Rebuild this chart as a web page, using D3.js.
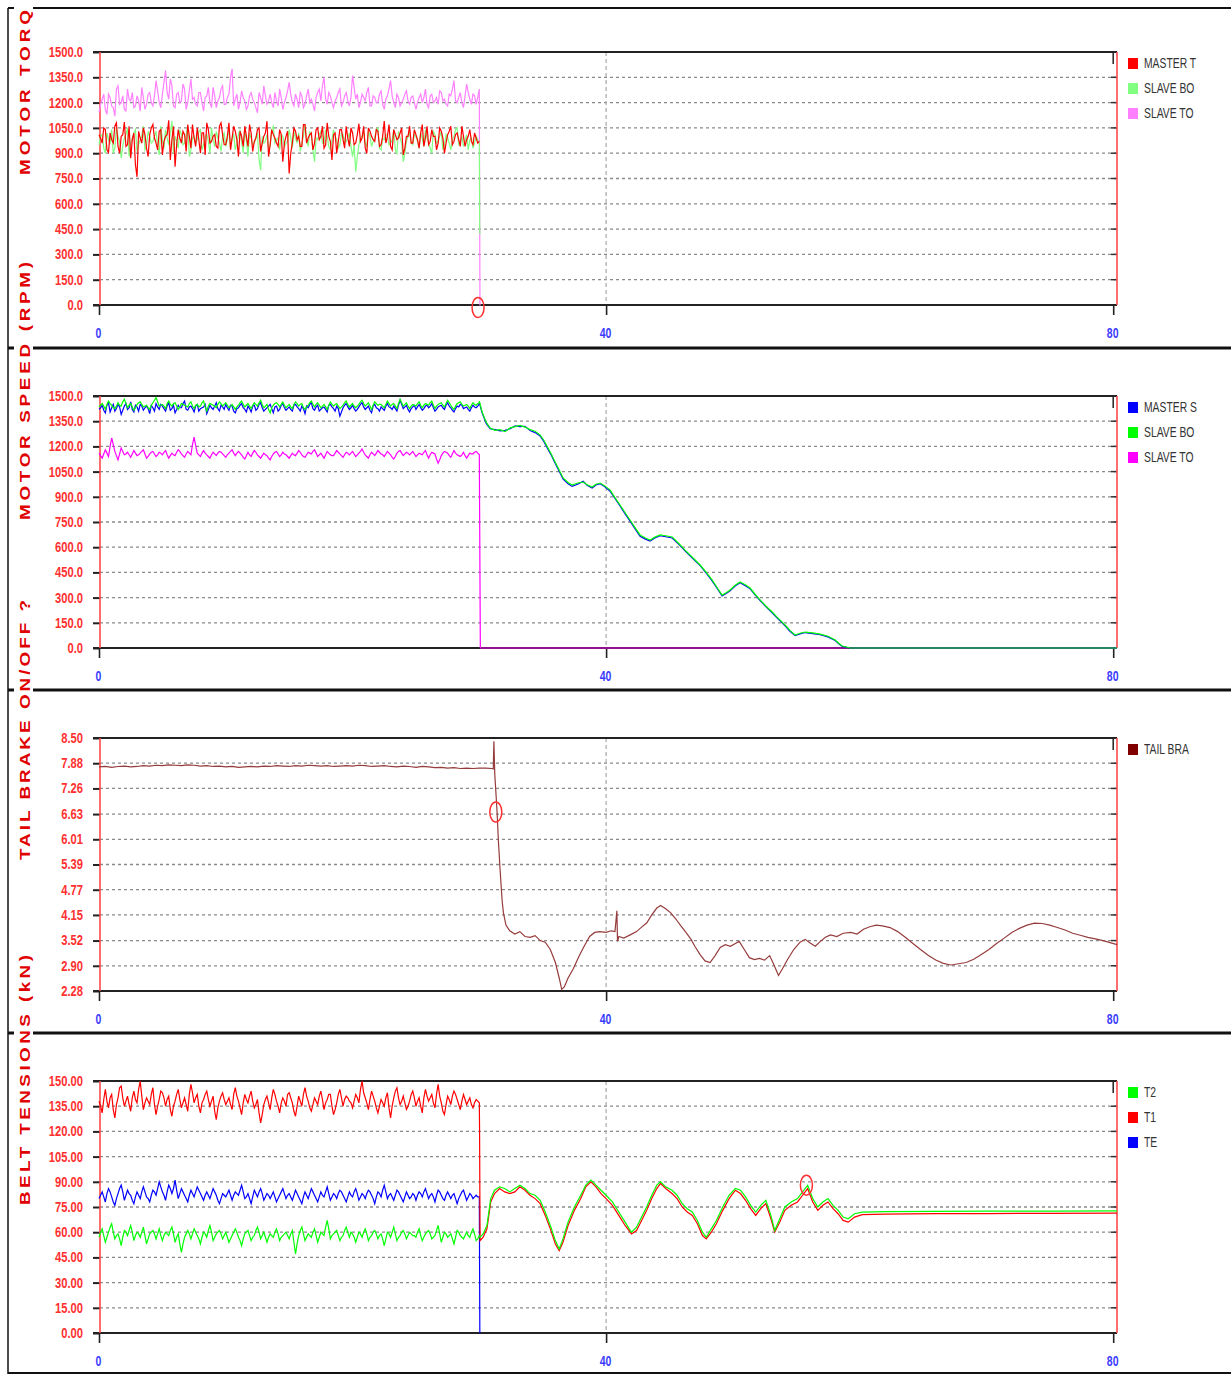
<!DOCTYPE html>
<html><head><meta charset="utf-8">
<script src="https://cdn.jsdelivr.net/npm/d3@7"></script>
<style>
body{margin:0;background:#fff;}
svg{display:block;}
</style></head><body>
<svg id="chart" width="1231" height="1376"></svg>
<script>
// ---------------- DATA ----------------
// recorded part (t = 0..30): "A" samples at t = i*0.25, "B" samples at t = 0.125 + i*0.25
const sampleStep = 0.25;
const timeTicks = [0, 40, 80];
const rpmTicks = [0,150,300,450,600,750,900,1050,1200,1350,1500];
const brakeTicks = [2.28,2.90,3.52,4.15,4.77,5.39,6.01,6.63,7.26,7.88,8.50];
const tensionTicks = [0,15,30,45,60,75,90,105,120,135,150];

const torqueNames = ['MASTER T','SLAVE BO','SLAVE TO'];
const speedNames = ['MASTER S','SLAVE BO','SLAVE TO'];
const brakeNames = ['TAIL BRA'];
const tensionNames = ['T2','T1','TE'];

const titles = ['MOTOR TORQ','MOTOR SPEED (RPM)','TAIL BRAKE ON/OFF ?','BELT TENSIONS (kN)'];

// Panel 1: motor torque
const torqueMaster = [1010,960,1040,905,980,1060,940,1000,1085,950,870,1020,760,990,1050,930,1010,1070,960,1030,
 890,1000,1095,980,820,1040,960,1010,1070,930,990,1050,900,1020,1080,960,1000,940,1060,1010,
 950,1080,990,1030,880,1000,1060,940,1020,970,1040,910,1000,1090,950,1010,960,1040,850,1000,
 780,960,1030,1000,940,1070,990,1020,960,1050,1000,930,1080,970,1010,900,1040,980,1060,940,
 1020,960,1075,990,930,1050,1000,970,1030,950,1090,1000,940,1040,980,1020,890,1000,1060,960,
 1010,930,1070,990,950,1040,1000,960,1030,900,1010,1060,970,1020,940,1000,980,1040,950,990,970];
const torqueMasterB = [990,1050,920,1020,960,1080,900,1010,940,1060,980,830,1030,960,1010,880,1050,990,920,1040,
 970,1010,860,1060,950,990,1030,910,1000,1070,940,980,1020,890,1040,970,1010,930,1080,950,
 1000,920,1060,980,1030,940,1000,1070,910,990,1050,960,1020,880,1040,990,940,1010,960,1030,
 900,1050,980,940,1070,960,1010,920,1040,980,1060,950,1000,860,1020,970,1040,930,990,1050,
 950,1010,970,1060,900,1030,980,1040,940,1000,960,1070,920,1010,990,1050,930,1000,960,1040,
 980,1020,940,1060,970,1000,920,1050,990,960,1030,950,1010,980,1060,940,1000,970,1020,960];
const torqueSlaveBot = [950,1010,900,980,1040,930,1000,870,990,1050,960,1020,910,980,1060,940,1000,970,1030,890,
 980,1040,950,1090,1000,930,1010,960,1060,920,1000,980,1040,950,1010,900,980,1030,960,1000,
 940,1050,990,920,1010,970,1030,880,990,960,1020,800,960,1010,940,1060,980,920,1000,960,
 1040,930,990,1020,960,1070,940,1000,850,980,1030,960,1000,920,1040,980,950,1010,970,1020,
 880,790,950,1000,960,1030,940,990,1050,920,980,1010,960,1040,900,990,850,970,1020,950,
 1000,930,990,1040,960,900,1010,970,1030,950,990,920,1000,1050,960,940,1010,980,930,1000,960];
const torqueSlaveBotB = [1000,930,1020,960,900,1050,970,940,1010,880,990,1040,950,1000,920,1030,960,1000,940,1060,
 930,990,1020,900,970,1040,950,1010,880,990,960,1030,920,1000,970,1050,940,990,910,1020,
 980,930,1010,960,1040,900,980,1020,950,990,860,1000,970,930,1040,960,990,1010,940,970,
 990,1030,960,910,1000,980,1030,920,990,1010,960,1040,940,980,1000,930,1020,960,990,940,
 950,880,990,1020,940,1000,970,1040,930,990,1010,950,980,920,1030,960,900,1000,960,1010,
 970,1020,940,990,930,1030,960,1000,920,1010,960,980,1040,950,1000,970,920,990,960,980];
const torqueSlaveTop = [1140,1220,1160,1250,1180,1120,1300,1200,1160,1280,1210,1170,1240,1150,1230,1190,1260,1180,1330,1200,
 1250,1390,1220,1300,1170,1260,1210,1280,1200,1340,1230,1180,1260,1150,1240,1200,1290,1170,1230,1300,
 1190,1250,1400,1220,1160,1270,1210,1180,1260,1200,1140,1230,1300,1190,1250,1170,1210,1280,1160,1230,
 1320,1200,1250,1170,1240,1190,1280,1220,1150,1260,1210,1350,1190,1240,1170,1230,1280,1200,1260,1180,
 1360,1220,1170,1250,1210,1290,1180,1230,1200,1270,1160,1240,1330,1200,1250,1180,1220,1270,1190,1240,
 1160,1230,1200,1280,1170,1250,1210,1190,1260,1220,1180,1240,1330,1200,1260,1170,1310,1220,1250,1190,1280];
const torqueSlaveTopB = [1190,1250,1130,1230,1170,1280,1190,1240,1150,1220,1260,1180,1210,1290,1160,1250,1200,1240,1270,1170,
 1320,1260,1340,1180,1250,1200,1310,1160,1270,1220,1190,1260,1200,1230,1290,1170,1240,1210,1280,1190,
 1230,1350,1180,1250,1200,1230,1160,1240,1220,1170,1260,1190,1240,1210,1200,1260,1180,1230,1200,1270,
 1250,1180,1220,1260,1170,1240,1200,1190,1230,1280,1300,1220,1260,1200,1210,1260,1180,1240,1210,1230,
 1290,1250,1200,1230,1260,1180,1240,1200,1250,1190,1220,1280,1240,1170,1230,1200,1250,1210,1230,1200,
 1200,1250,1230,1190,1240,1200,1230,1270,1210,1190,1250,1280,1210,1230,1200,1240,1260,1190,1240,1230];
const torqueSlaveBotTail = [[30.03,450],[30.05,420]];
const torqueSlaveTopTail = [[30.05,0],[30.1,0]];

// Panel 2: motor speed
const speedMaster = [1420,1445,1400,1460,1430,1410,1450,1390,1440,1420,1465,1405,1435,1450,1415,1440,1395,1430,1455,1420,
 1440,1410,1460,1425,1400,1445,1430,1470,1415,1440,1405,1450,1425,1435,1395,1445,1420,1460,1410,1435,
 1450,1415,1440,1400,1430,1455,1420,1440,1405,1445,1425,1460,1410,1430,1450,1400,1440,1420,1455,1415,
 1435,1410,1450,1425,1440,1395,1430,1460,1415,1445,1420,1435,1405,1450,1425,1440,1380,1430,1455,1420,
 1445,1410,1435,1460,1420,1440,1400,1450,1425,1435,1415,1455,1430,1440,1410,1475,1425,1445,1405,1435,
 1420,1450,1415,1440,1430,1455,1410,1435,1445,1420,1460,1430,1405,1440,1450,1425,1435,1410,1445,1430,1455];
const speedMasterB = [1430,1415,1445,1405,1450,1425,1435,1415,1455,1430,1420,1445,1410,1440,1430,1425,1445,1410,1435,1450,
 1425,1440,1415,1445,1420,1430,1455,1420,1435,1425,1440,1410,1430,1450,1420,1430,1440,1425,1445,1420,
 1430,1445,1410,1425,1445,1430,1405,1425,1440,1415,1450,1430,1420,1440,1425,1435,1410,1445,1430,1425,
 1420,1445,1435,1410,1425,1440,1450,1425,1435,1410,1430,1420,1445,1435,1410,1425,1405,1445,1435,1430,
 1425,1420,1450,1435,1430,1415,1440,1430,1410,1425,1440,1435,1420,1425,1445,1450,1435,1420,1425,1445,
 1435,1430,1425,1445,1440,1430,1420,1440,1430,1445,1440,1415,1425,1435,1445,1430,1420,1430,1435,1440];
const speedSlaveBot = [1435,1455,1420,1470,1445,1425,1460,1440,1480,1430,1455,1415,1450,1465,1435,1445,1420,1460,1490,1440,
 1450,1425,1470,1440,1460,1420,1455,1445,1435,1465,1425,1450,1440,1470,1410,1455,1445,1430,1465,1440,
 1460,1430,1450,1420,1445,1470,1435,1455,1425,1460,1440,1475,1430,1450,1400,1445,1460,1435,1465,1430,
 1450,1425,1465,1440,1455,1420,1445,1470,1435,1460,1430,1450,1420,1465,1440,1455,1425,1445,1470,1435,
 1455,1430,1450,1475,1440,1460,1420,1465,1445,1450,1430,1470,1440,1455,1425,1480,1440,1460,1425,1450,
 1440,1465,1430,1455,1445,1470,1425,1450,1460,1435,1475,1445,1420,1455,1465,1440,1450,1425,1460,1445,1460];
const speedSlaveBotB = [1445,1440,1450,1455,1430,1440,1445,1465,1455,1445,1435,1430,1460,1450,1440,1430,1445,1475,1465,1445,
 1440,1455,1450,1455,1440,1435,1450,1440,1455,1440,1445,1435,1460,1435,1440,1450,1440,1450,1455,1450,
 1445,1440,1435,1435,1460,1450,1445,1440,1445,1450,1460,1450,1440,1420,1430,1455,1450,1450,1445,1440,
 1435,1450,1455,1450,1430,1435,1460,1450,1450,1445,1440,1435,1445,1450,1450,1440,1435,1460,1450,1445,
 1440,1440,1465,1455,1450,1440,1445,1455,1450,1440,1450,1455,1450,1440,1455,1460,1450,1440,1440,1445,
 1455,1445,1445,1450,1460,1445,1440,1455,1445,1455,1460,1430,1440,1460,1450,1445,1440,1445,1450,1455];
const speedSlaveTop = [1160,1130,1180,1140,1250,1170,1120,1190,1150,1165,1135,1175,1145,1160,1180,1130,1155,1170,1140,1165,
 1150,1175,1130,1160,1145,1180,1155,1135,1170,1150,1255,1160,1140,1175,1150,1130,1165,1145,1170,1155,
 1135,1160,1180,1145,1170,1150,1125,1165,1140,1175,1150,1130,1160,1145,1120,1155,1170,1140,1165,1150,
 1130,1160,1145,1175,1150,1135,1165,1155,1180,1140,1160,1130,1170,1150,1145,1175,1155,1135,1165,1150,
 1170,1140,1160,1185,1150,1130,1165,1145,1175,1155,1140,1170,1150,1125,1160,1175,1145,1165,1150,1170,
 1140,1160,1150,1175,1130,1165,1155,1100,1145,1170,1160,1135,1175,1150,1140,1165,1130,1160,1155,1170,1150];
const speedSlaveTopB = [1145,1155,1160,1200,1210,1145,1155,1170,1155,1150,1155,1160,1150,1170,1155,1140,1165,1155,1150,1160,
 1165,1150,1145,1150,1165,1170,1145,1155,1160,1210,1205,1150,1160,1160,1140,1150,1155,1160,1165,1145,
 1150,1170,1160,1160,1160,1135,1145,1150,1160,1165,1140,1145,1150,1130,1140,1165,1155,1150,1155,1140,
 1145,1150,1160,1165,1140,1150,1160,1170,1160,1150,1145,1150,1160,1145,1160,1165,1145,1150,1160,1160,
 1155,1150,1170,1165,1140,1150,1155,1160,1165,1150,1155,1160,1135,1140,1170,1160,1155,1160,1160,1155,
 1150,1155,1165,1150,1150,1160,1125,1120,1160,1165,1145,1155,1160,1145,1150,1145,1145,1155,1165,1160];
const speedMasterTail = [[30.0,1460],[30.22,1400],[30.53,1338],[30.85,1305],[31.24,1300],[31.64,1292],[32.03,1295],[32.43,1305],[32.82,1322],[33.21,1318],[33.6,1320],[34.0,1295],[34.4,1282],[34.79,1262],[35.1,1228],[35.42,1182],[35.7,1145],[35.98,1100],[36.3,1052],[36.61,1005],[37.0,978],[37.32,962],[37.75,975],[38.19,992],[38.5,968],[38.9,952],[39.2,970],[39.53,978],[39.9,960],[40.32,932],[40.7,890],[41.1,845],[41.5,798],[41.89,755],[42.3,708],[42.68,665],[43.1,648],[43.47,636],[43.85,655],[44.26,668],[44.7,662],[45.21,655],[45.7,620],[46.23,578],[46.8,535],[47.42,490],[47.9,445],[48.36,400],[48.75,356],[49.15,310],[49.5,326],[49.78,340],[50.2,370],[50.57,388],[50.95,372],[51.36,352],[51.75,316],[52.15,282],[52.6,246],[53.1,210],[53.6,170],[54.12,132],[54.5,100],[54.91,74],[55.3,84],[55.7,92],[56.3,86],[56.88,80],[57.5,66],[58.07,45],[58.4,22],[58.62,10],[59.25,0],[80.3,0]];
const speedSlaveBotTail = [[30.0,1470],[30.22,1405],[30.53,1345],[30.85,1310],[31.24,1296],[31.64,1300],[32.03,1288],[32.43,1310],[32.82,1318],[33.21,1325],[33.6,1315],[34.0,1300],[34.4,1290],[34.79,1268],[35.1,1235],[35.42,1190],[35.7,1150],[35.98,1107],[36.3,1060],[36.61,1012],[37.0,985],[37.32,970],[37.75,982],[38.19,988],[38.5,972],[38.9,958],[39.2,975],[39.53,982],[39.9,965],[40.32,940],[40.7,895],[41.1,851],[41.5,805],[41.89,762],[42.3,715],[42.68,673],[43.1,655],[43.47,643],[43.85,660],[44.26,673],[44.7,668],[45.21,661],[45.7,625],[46.23,583],[46.8,540],[47.42,494],[47.9,450],[48.36,405],[48.75,360],[49.15,315],[49.5,330],[49.78,345],[50.2,375],[50.57,393],[50.95,378],[51.36,357],[51.75,320],[52.15,286],[52.6,250],[53.1,214],[53.6,175],[54.12,137],[54.5,105],[54.91,77],[55.3,88],[55.7,95],[56.3,90],[56.88,83],[57.5,70],[58.07,48],[58.4,25],[58.62,12],[59.25,0],[80.3,0]];
const speedSlaveTopTail = [[30.08,0],[80.3,0]];

// Panel 3: tail brake (0.5 s samples up to t = 30, then recorded points)
const brakeStep = 0.5;
const brakeBefore = [7.79,7.80,7.78,7.80,7.81,7.79,7.80,7.82,7.81,7.83,7.82,7.84,7.83,7.82,7.84,7.83,7.81,7.82,7.80,7.81,
 7.79,7.80,7.78,7.79,7.80,7.79,7.81,7.80,7.82,7.81,7.80,7.82,7.81,7.83,7.82,7.81,7.82,7.80,7.81,7.82,
 7.81,7.83,7.82,7.80,7.81,7.82,7.80,7.79,7.81,7.80,7.78,7.80,7.79,7.77,7.78,7.76,7.77,7.75,7.76,7.75,7.76];
const brakeAfter = [[30.5,7.76],[31.0,7.75],[31.1,7.74],[31.15,8.42],[31.22,7.6],[31.32,7.1],[31.4,6.68],[31.5,6.0],[31.64,5.25],[31.8,4.5],[31.9,4.2],[32.1,3.9],[32.4,3.76],[32.8,3.68],[33.2,3.74],[33.6,3.62],[34.0,3.6],[34.4,3.64],[34.8,3.52],[35.2,3.48],[35.6,3.3],[36.0,2.98],[36.3,2.6],[36.5,2.32],[36.7,2.38],[37.0,2.6],[37.4,2.82],[37.9,3.16],[38.3,3.4],[38.7,3.62],[39.1,3.72],[39.5,3.74],[40.0,3.72],[40.4,3.76],[40.7,3.74],[40.85,4.25],[40.9,3.5],[41.0,3.62],[41.4,3.58],[41.9,3.66],[42.4,3.74],[42.8,3.85],[43.2,3.95],[43.6,4.15],[44.0,4.32],[44.3,4.38],[44.7,4.3],[45.1,4.2],[45.5,4.05],[45.9,3.88],[46.3,3.72],[46.7,3.55],[47.0,3.38],[47.4,3.18],[47.8,3.02],[48.2,2.98],[48.6,3.15],[49.0,3.35],[49.4,3.42],[49.8,3.38],[50.2,3.45],[50.5,3.5],[50.9,3.3],[51.3,3.1],[51.7,3.05],[52.1,3.08],[52.5,3.04],[52.9,3.15],[53.2,2.95],[53.6,2.66],[53.9,2.82],[54.3,3.05],[54.8,3.3],[55.3,3.48],[55.7,3.55],[56.1,3.46],[56.5,3.38],[56.9,3.5],[57.3,3.6],[57.7,3.66],[58.2,3.62],[58.7,3.7],[59.3,3.72],[59.8,3.68],[60.3,3.8],[60.8,3.86],[61.3,3.9],[61.8,3.88],[62.4,3.84],[63.0,3.74],[63.6,3.6],[64.2,3.45],[64.8,3.3],[65.4,3.16],[66.0,3.04],[66.6,2.96],[67.2,2.92],[67.8,2.95],[68.4,2.98],[69.0,3.06],[69.6,3.18],[70.2,3.3],[70.8,3.45],[71.4,3.58],[72.0,3.72],[72.6,3.82],[73.2,3.9],[73.8,3.95],[74.4,3.94],[75.0,3.9],[75.6,3.84],[76.2,3.78],[76.8,3.7],[77.4,3.65],[78.0,3.6],[78.6,3.56],[79.2,3.52],[80.3,3.42]];

// Panel 4: belt tensions
const tensionT1 = [138,131,145,134,142,128,140,147,135,141,132,144,137,150,133,140,136,146,130,139,
 143,135,141,129,138,145,134,140,132,148,137,142,131,139,144,135,141,127,138,143,
 136,140,133,146,138,130,142,137,144,134,139,125,136,141,133,145,138,131,140,135,
 143,137,129,141,135,146,138,132,140,136,144,133,139,142,130,137,145,135,141,138,
 134,142,137,150,140,133,144,138,131,139,135,143,128,140,146,136,141,133,138,144,
 135,140,131,145,138,142,134,148,137,130,141,136,144,139,133,142,136,140,134,139,137];
const tensionT1B = [135,139,138,140,133,136,146,140,138,136,140,139,145,141,137,138,142,136,135,144,
 140,139,133,135,142,139,137,136,142,143,140,135,137,142,139,138,132,134,141,139,
 138,136,142,141,134,137,139,141,138,136,131,130,139,137,140,142,135,137,138,142,
 140,132,135,138,142,141,134,136,138,141,139,137,142,135,133,142,140,139,140,137,
 138,140,145,143,137,139,141,134,135,137,140,134,135,144,140,138,137,135,142,140,
 138,135,140,141,140,137,142,141,132,136,139,141,142,136,138,139,138,136,137,138];
const tensionTE = [80,84,78,86,81,76,83,88,79,85,82,77,84,80,87,81,78,85,82,90,
 84,79,88,83,91,80,86,82,78,85,81,87,83,79,84,80,86,82,77,83,
 81,85,79,84,82,88,80,83,77,85,81,86,79,83,80,84,78,82,86,80,
 83,79,85,81,77,84,80,86,82,78,84,81,87,79,83,80,85,82,78,84,
 81,86,79,83,80,85,82,77,84,81,88,80,83,79,85,82,78,84,80,83,
 79,84,81,86,80,83,78,85,82,79,84,80,83,77,82,85,79,83,80,82,81];
const tensionTEB = [82,81,83,84,78,80,86,84,82,83,79,81,82,84,84,80,82,84,86,87,
 82,84,86,86,85,83,84,80,82,83,84,85,81,82,82,83,84,79,80,82,
 83,82,82,83,85,84,81,80,81,83,84,83,81,82,82,81,80,84,83,82,
 81,82,83,79,81,82,83,84,80,81,82,84,83,81,82,83,84,80,81,82,
 84,83,81,82,83,84,80,81,83,85,84,82,81,82,84,80,81,82,81,82,
 82,83,84,83,82,81,82,84,80,82,82,82,80,80,84,82,81,82,81,81];
const tensionT2 = [57,62,54,60,65,56,59,52,61,58,64,55,60,57,63,53,59,61,56,62,
 55,60,58,63,54,59,48,57,61,56,62,58,53,60,57,64,55,59,61,56,
 60,54,58,62,57,52,59,61,55,58,63,56,60,54,59,57,62,55,58,60,
 56,61,47,58,63,55,59,57,62,54,60,58,67,56,59,61,55,58,63,57,
 59,54,60,57,62,55,58,61,56,59,52,60,57,63,55,58,61,56,60,58,
 57,62,55,59,61,56,58,64,54,60,57,59,53,61,58,56,60,57,62,55,58];
const tensionT2B = [60,58,57,63,60,58,56,57,60,61,60,58,59,60,58,56,60,59,59,58,
 58,59,61,59,57,53,53,59,59,59,60,56,57,59,61,60,57,60,59,58,
 57,56,60,60,55,56,60,58,57,61,60,58,57,57,58,60,59,57,59,58,
 59,54,53,61,59,57,58,60,58,57,59,63,62,58,60,58,57,61,60,60,
 57,57,59,60,59,57,60,59,58,56,56,59,60,59,57,60,59,58,59,58,
 60,58,57,60,59,57,61,59,57,59,58,56,57,60,57,58,58,60,59,56];
const tensionT2Tail = [[30.06,57],[30.3,59],[30.6,64],[30.9,80],[31.2,85],[31.6,87],[32.0,86],[32.4,84],[32.8,86],[33.2,88],[33.6,86],[34.0,83],[34.4,82],[34.8,79],[35.2,72],[35.6,64],[36.0,55],[36.3,50],[36.6,56],[37.0,66],[37.5,75],[38.0,82],[38.4,88],[38.8,91],[39.2,88],[39.6,85],[40.0,82],[40.5,78],[41.0,72],[41.5,66],[42.0,60],[42.4,63],[42.8,69],[43.2,75],[43.6,82],[44.0,88],[44.3,90],[44.7,87],[45.2,85],[45.6,82],[46.0,77],[46.4,74],[46.8,72],[47.2,67],[47.6,60],[47.9,57],[48.3,62],[48.7,67],[49.2,75],[49.7,82],[50.2,86],[50.6,85],[51.0,81],[51.4,76],[51.8,72],[52.2,76],[52.6,79],[53.0,70],[53.3,61],[53.7,68],[54.1,75],[54.6,78],[55.1,80],[55.5,84],[55.9,88],[56.3,80],[56.7,75],[57.1,78],[57.5,80],[57.9,76],[58.3,73],[58.7,69],[59.1,68],[59.6,71],[60.2,72],[62,72.2],[66,72.4],[70,72.5],[75,72.6],[80.3,72.7]];
const tensionT1Tail = [[30.02,120],[30.06,55],[30.3,57],[30.6,62],[30.9,78],[31.2,83],[31.6,86],[32.0,84],[32.4,83],[32.8,84],[33.2,87],[33.6,85],[34.0,82],[34.4,80],[34.8,77],[35.2,70],[35.6,62],[36.0,53],[36.3,49],[36.6,54],[37.0,64],[37.5,73],[38.0,80],[38.4,87],[38.8,90],[39.2,87],[39.6,83],[40.0,80],[40.5,76],[41.0,70],[41.5,64],[42.0,59],[42.4,61],[42.8,67],[43.2,73],[43.6,80],[44.0,86],[44.3,89],[44.7,86],[45.2,83],[45.6,80],[46.0,75],[46.4,72],[46.8,70],[47.2,65],[47.6,58],[47.9,56],[48.3,60],[48.7,65],[49.2,73],[49.7,80],[50.2,85],[50.6,83],[51.0,79],[51.4,74],[51.8,70],[52.2,74],[52.6,77],[53.0,68],[53.3,60],[53.7,66],[54.1,73],[54.6,76],[55.1,78],[55.5,82],[55.9,86],[56.3,78],[56.7,73],[57.1,76],[57.5,78],[57.9,74],[58.3,71],[58.7,67],[59.1,66],[59.6,69],[60.2,70.5],[62,70.8],[66,71],[70,71.1],[75,71.2],[80.3,71.3]];
const tensionTETail = [[30.04,0]];

// cursor markers [t, value]
const cursors = [[29.9,-15], null, [31.3,6.68], [55.8,88]];

// ---------------- DRAWING ----------------
const sampled = (vals, step) => vals.map((v, i) => [i * step, v]);
const merged = (a, b) => sampled(a, sampleStep)
  .concat(b.map((v, i) => [(i + 0.5) * sampleStep, v]))
  .sort((p, q) => p[0] - q[0]);

const FONT = '"Liberation Sans",Arial,sans-serif';
const svg = d3.select('#chart');
const x = d3.scaleLinear().domain([0, 80.3]).range([99, 1117]);
const left = 100, right = 1117;

const panels = [
  {top:52, bottom:305, domain:[0,1500], ticks:rpmTicks, fmt:d3.format('.1f'), titleY:175, titleLen:165,
   names:torqueNames, legendColors:['#ff0000','#80ff80','#ff80ff'],
   series:[
     {color:'#ff80ff', data:merged(torqueSlaveTop, torqueSlaveTopB).concat(torqueSlaveTopTail)},
     {color:'#80ff80', data:merged(torqueSlaveBot, torqueSlaveBotB).concat(torqueSlaveBotTail)},
     {color:'#ff0000', data:merged(torqueMaster, torqueMasterB)}
   ]},
  {top:396, bottom:648, domain:[0,1500], ticks:rpmTicks, fmt:d3.format('.1f'), titleY:520, titleLen:258,
   names:speedNames, legendColors:['#0000ff','#00ff00','#ff00ff'],
   series:[
     {color:'#ff00ff', data:merged(speedSlaveTop, speedSlaveTopB).concat(speedSlaveTopTail)},
     {color:'#0000ff', data:merged(speedMaster, speedMasterB).concat(speedMasterTail)},
     {color:'#00ff00', data:merged(speedSlaveBot, speedSlaveBotB).concat(speedSlaveBotTail)}
   ]},
  {top:738, bottom:991, domain:[2.28,8.50], ticks:brakeTicks, fmt:d3.format('.2f'), titleY:860, titleLen:260,
   names:brakeNames, legendColors:['#800000'],
   series:[
     {color:'#963c3c', data:sampled(brakeBefore, brakeStep).concat(brakeAfter)}
   ]},
  {top:1081, bottom:1333, domain:[0,150], ticks:tensionTicks, fmt:d3.format('.2f'), titleY:1205, titleLen:250,
   names:tensionNames, legendColors:['#00ff00','#ff0000','#0000ff'],
   series:[
     {color:'#0000ff', data:merged(tensionTE, tensionTEB).concat(tensionTETail)},
     {color:'#ff0000', data:merged(tensionT1, tensionT1B).concat(tensionT1Tail)},
     {color:'#00ff00', data:merged(tensionT2, tensionT2B).concat(tensionT2Tail)}
   ]}
];

const TITLE_STRETCH = 1.35;

panels.forEach((p, pi) => {
  const y = d3.scaleLinear().domain(p.domain).range([p.bottom, p.top]);
  const g = svg.append('g');

  // horizontal dashed grid
  g.selectAll('line.hgrid').data(p.ticks.slice(1, -1)).join('line')
    .attr('x1', left).attr('x2', right).attr('y1', d => y(d)).attr('y2', d => y(d))
    .attr('stroke', '#8a8a8a').attr('stroke-width', 1.3).attr('stroke-dasharray', '3,3');
  // vertical dashed grid at 40
  g.append('line').attr('x1', x(40)).attr('x2', x(40)).attr('y1', p.top).attr('y2', p.bottom)
    .attr('stroke', '#a8a8a8').attr('stroke-width', 1.2).attr('stroke-dasharray', '4,3');

  // left axis (ticks from d3, labels condensed)
  const ya = g.append('g').attr('transform', `translate(${left},0)`)
    .call(d3.axisLeft(y).tickValues(p.ticks).tickFormat(p.fmt).tickSize(7).tickPadding(10));
  ya.select('.domain').remove();
  ya.selectAll('.tick line').attr('stroke', '#222').attr('stroke-width', 2);
  ya.selectAll('.tick text')
    .attr('x', null).attr('dy', null)
    .attr('transform', 'translate(-17,0) scale(0.8,1)')
    .attr('dominant-baseline', 'central')
    .attr('fill', '#ff3030').attr('font-family', FONT)
    .attr('font-size', 14).attr('font-weight', 'bold');

  // right inner ticks
  g.selectAll('line.rtick').data(p.ticks).join('line')
    .attr('x1', right - 6).attr('x2', right).attr('y1', d => y(d)).attr('y2', d => y(d))
    .attr('stroke', '#333').attr('stroke-width', 1.5);

  // top line and top-right tick
  g.append('line').attr('x1', left - 7).attr('x2', right).attr('y1', p.top).attr('y2', p.top)
    .attr('stroke', '#222').attr('stroke-width', 2);
  g.append('line').attr('x1', x(80)).attr('x2', x(80)).attr('y1', p.top).attr('y2', p.top + 12)
    .attr('stroke', '#222').attr('stroke-width', 1.5);

  // bottom axis
  const xa = g.append('g').attr('transform', `translate(0,${p.bottom})`)
    .call(d3.axisBottom(x).tickValues(timeTicks).tickFormat(d3.format('d')).tickSize(10).tickPadding(14));
  xa.select('.domain').remove();
  xa.selectAll('.tick line').attr('stroke', '#222').attr('stroke-width', 1.6);
  xa.selectAll('.tick text')
    .attr('y', null).attr('dy', null)
    .attr('transform', 'translate(-1,28) scale(0.7,1)')
    .attr('dominant-baseline', 'central')
    .attr('fill', '#3a3aff').attr('font-family', FONT)
    .attr('font-size', 15).attr('font-weight', 'bold');
  g.append('line').attr('x1', left - 7).attr('x2', right).attr('y1', p.bottom).attr('y2', p.bottom)
    .attr('stroke', '#222').attr('stroke-width', 2);

  // red left and right edges
  g.append('line').attr('x1', left).attr('x2', left).attr('y1', p.top).attr('y2', p.bottom)
    .attr('stroke', '#ff4a4a').attr('stroke-width', 1.6);
  g.append('line').attr('x1', right).attr('x2', right).attr('y1', p.top).attr('y2', p.bottom)
    .attr('stroke', '#ff4a4a').attr('stroke-width', 1.6);

  // series
  const line = d3.line().x(d => x(d[0])).y(d => y(d[1]));
  p.series.forEach(s => {
    g.append('path').datum(s.data).attr('d', line)
      .attr('fill', 'none').attr('stroke', s.color).attr('stroke-width', 1.2);
  });

  // cursor marker
  if (cursors[pi]) {
    g.append('ellipse').attr('cx', x(cursors[pi][0])).attr('cy', y(cursors[pi][1]))
      .attr('rx', 6).attr('ry', 10).attr('fill', 'none').attr('stroke', '#ff3030').attr('stroke-width', 1.5);
  }

  // legend
  const lg = g.append('g').attr('transform', `translate(1128,${p.top + 11})`);
  p.names.forEach((n, i) => {
    lg.append('rect').attr('x', 0).attr('y', i * 25 - 5).attr('width', 10).attr('height', 11)
      .attr('fill', p.legendColors[i]);
    lg.append('text')
      .attr('transform', `translate(16,${i * 25}) scale(0.74,1)`)
      .attr('dominant-baseline', 'central')
      .attr('font-family', FONT).attr('font-size', 14).attr('fill', '#333')
      .text(n);
  });

  // title (rotated, running upward into the panel above as in the original)
  svg.append('text')
    .attr('transform', `translate(30,${p.titleY}) rotate(-90) scale(${TITLE_STRETCH},1)`)
    .attr('font-family', FONT).attr('font-weight', 'bold')
    .attr('font-size', 14).attr('fill', '#e00000')
    .attr('textLength', p.titleLen / TITLE_STRETCH).attr('lengthAdjust', 'spacing')
    .text(titles[pi]);
});

// outer frame and separators (gap left for the titles)
const frameSegs = [8, 348, 690, 1033];
frameSegs.forEach((yy, i) => {
  const w = i === 0 ? 2 : 3;
  svg.append('line').attr('x1', 8).attr('x2', 14).attr('y1', yy).attr('y2', yy).attr('stroke', '#111').attr('stroke-width', w);
  svg.append('line').attr('x1', 33).attr('x2', 1231).attr('y1', yy).attr('y2', yy).attr('stroke', '#111').attr('stroke-width', w);
});
svg.append('line').attr('x1', 8).attr('x2', 1231).attr('y1', 1373).attr('y2', 1373).attr('stroke', '#111').attr('stroke-width', 2);
svg.append('line').attr('x1', 8).attr('x2', 8).attr('y1', 8).attr('y2', 1374).attr('stroke', '#111').attr('stroke-width', 1.5);
</script></body></html>
